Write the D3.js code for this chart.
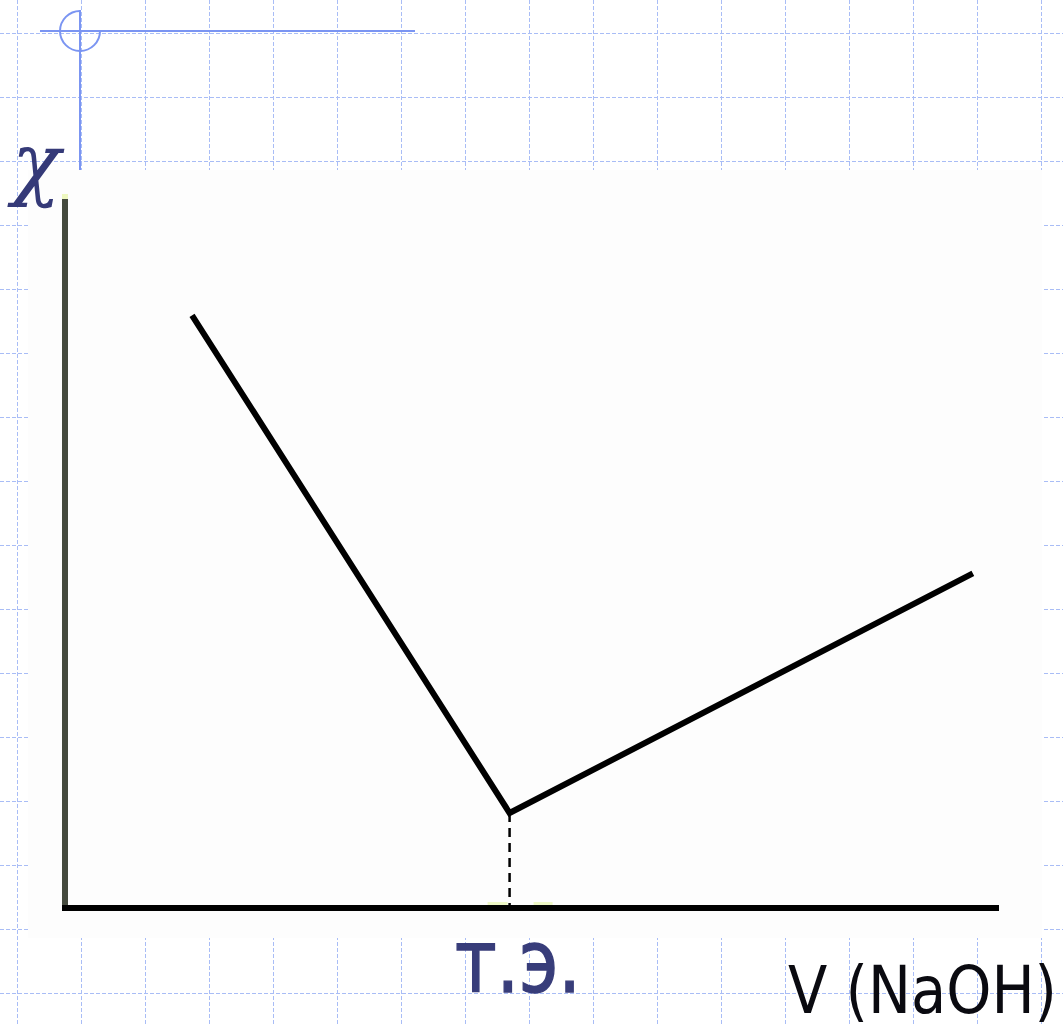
<!DOCTYPE html>
<meta charset="utf-8">
<style>
body { margin: 0; background: #fff; }
svg { display: block; }
</style>
<body>
<svg width="1063" height="1026"></svg>
<script src="https://d3js.org/d3.v7.min.js"></script>
<script>

// conductometric titration curve: conductivity vs volume of NaOH
var volume = [1.36, 4.76, 9.72];
var conductivity = [8.36, 1.34, 4.72];
var equivPoint = 4.76;
var labels = { y: "χ", x: "V (NaOH)", equiv: "т.э." };

var svg = d3.select("svg"),
    width = +svg.attr("width"),
    height = +svg.attr("height");

var x = d3.scaleLinear().domain([0, 10]).range([65, 999]);
var y = d3.scaleLinear().domain([0, 10]).range([908, 199]);

// slide background grid
var grid = svg.append("g")
    .attr("stroke", "#a9bdf6")
    .attr("stroke-width", 1)
    .attr("stroke-dasharray", "4,2");

grid.selectAll("line.v")
  .data(d3.range(17, width, 64))
  .enter().append("line")
    .attr("class", "v")
    .attr("x1", function(d) { return d + 0.5; })
    .attr("x2", function(d) { return d + 0.5; })
    .attr("y1", 0)
    .attr("y2", height);

grid.selectAll("line.h")
  .data(d3.range(33, height, 64))
  .enter().append("line")
    .attr("class", "h")
    .attr("y1", function(d) { return d + 0.5; })
    .attr("y2", function(d) { return d + 0.5; })
    .attr("x1", 0)
    .attr("x2", width);

// crosshair ornament
var cross = svg.append("g")
    .attr("stroke", "#7b95f2")
    .attr("stroke-width", 2)
    .attr("fill", "none");

cross.append("line")
    .attr("x1", 40).attr("x2", 415)
    .attr("y1", 31).attr("y2", 31);

cross.append("line")
    .attr("x1", 80).attr("x2", 80)
    .attr("y1", 10).attr("y2", 170);

cross.append("path")
    .attr("transform", "translate(80,31)")
    .attr("d", d3.arc()
        .innerRadius(20)
        .outerRadius(20)
        .startAngle(Math.PI / 2)
        .endAngle(2 * Math.PI));

// chart panel
svg.append("rect")
    .attr("x", 28)
    .attr("y", 170)
    .attr("width", 1014)
    .attr("height", 768)
    .attr("fill", "#fdfdfd");

// little highlights left over on the slide
svg.append("rect")
    .attr("x", x(equivPoint) - 22).attr("y", 902)
    .attr("width", 20).attr("height", 3)
    .attr("fill", "#eef8c6");
svg.append("rect")
    .attr("x", x(equivPoint) + 24).attr("y", 902)
    .attr("width", 19).attr("height", 3)
    .attr("fill", "#eef8c6");
svg.append("rect")
    .attr("x", 62).attr("y", 194)
    .attr("width", 6).attr("height", 5)
    .attr("fill", "#eef8c0");

// axes
svg.append("line")
    .attr("x1", x(0)).attr("x2", x(0))
    .attr("y1", y(10)).attr("y2", y(0))
    .attr("stroke", "#454a3e")
    .attr("stroke-width", 6);

svg.append("line")
    .attr("x1", x(0) - 3).attr("x2", x(10))
    .attr("y1", y(0)).attr("y2", y(0))
    .attr("stroke", "#000")
    .attr("stroke-width", 6);

// dashed drop line at equivalence point
var minIdx = d3.minIndex(conductivity);
svg.append("line")
    .attr("x1", x(equivPoint)).attr("x2", x(equivPoint))
    .attr("y1", y(conductivity[minIdx]))
    .attr("y2", y(0) - 3)
    .attr("stroke", "#000")
    .attr("stroke-width", 2.5)
    .attr("stroke-dasharray", "9,6");

// curve
var line = d3.line()
    .x(function(d) { return x(d[0]); })
    .y(function(d) { return y(d[1]); });

svg.append("path")
    .datum(d3.zip(volume, conductivity))
    .attr("d", line)
    .attr("fill", "none")
    .attr("stroke", "#000")
    .attr("stroke-width", 6)
    .attr("stroke-linejoin", "miter");

// labels
svg.append("text")
    .attr("x", 12)
    .attr("y", 190)
    .attr("font-family", "DejaVu Serif, serif")
    .attr("font-style", "italic")
    .attr("font-size", 80)
    .attr("fill", "#353a78")
    .text(labels.y);

svg.append("text")
    .attr("x", 455)
    .attr("y", 992)
    .attr("font-family", "DejaVu Sans Condensed, DejaVu Sans, sans-serif")
    .attr("font-size", 88)
    .attr("fill", "#383d7a")
    .attr("stroke", "#383d7a")
    .attr("stroke-width", 1.4)
    .attr("textLength", 126)
    .attr("lengthAdjust", "spacingAndGlyphs")
    .text(labels.equiv);

// sits on the bottom edge, as on the slide
svg.append("text")
    .attr("x", 788)
    .attr("y", 1013)
    .attr("font-family", "DejaVu Sans, sans-serif")
    .attr("font-size", 65)
    .attr("fill", "#0a0a10")
    .attr("textLength", 269)
    .attr("lengthAdjust", "spacingAndGlyphs")
    .text(labels.x);

</script>
</body>
